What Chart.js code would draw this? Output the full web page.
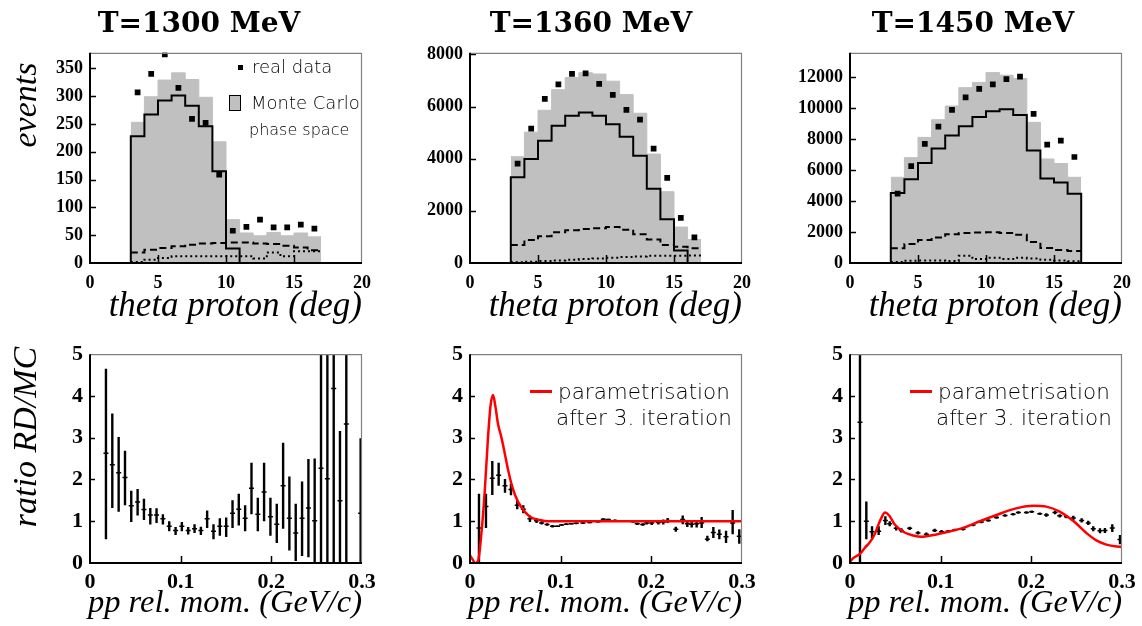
<!DOCTYPE html>
<html>
<head>
<meta charset="utf-8">
<script src="https://cdn.jsdelivr.net/npm/chart.js@4.4.1/dist/chart.umd.min.js"></script>
<style>
  body { margin: 0; background: #fff; width: 1142px; height: 626px; overflow: hidden; position: relative; }
  canvas { position: absolute; }
  .t { position: absolute; white-space: nowrap; color: #000; }
  .ttl { font: bold 28px "DejaVu Serif"; line-height: 30px; width: 300px; text-align: center; }
  .ax { font-family: "Liberation Serif"; font-style: italic; line-height: 34px; width: 400px; text-align: right; }
  .yt { font: italic 34px "Liberation Serif"; line-height: 34px; width: 240px; height: 34px; text-align: center; transform: rotate(-90deg); }
  .lg { font-family: "DejaVu Sans"; font-weight: 200; color: #000; line-height: 1; }
</style>
</head>
<body>
<canvas id="c1" width="362" height="268" style="left:20px;top:35px"></canvas>
<canvas id="c2" width="362" height="268" style="left:400px;top:35px"></canvas>
<canvas id="c3" width="362" height="268" style="left:780px;top:35px"></canvas>
<canvas id="c4" width="362" height="269" style="left:20px;top:334px"></canvas>
<canvas id="c5" width="362" height="269" style="left:400px;top:334px"></canvas>
<canvas id="c6" width="362" height="269" style="left:780px;top:334px"></canvas>

<div class="t ttl" style="left:49px;top:8px">T=1300 MeV</div>
<div class="t ttl" style="left:441px;top:8px">T=1360 MeV</div>
<div class="t ttl" style="left:823px;top:8px">T=1450 MeV</div>

<div class="t yt" style="left:-95px;top:88px">events</div>
<div class="t yt" style="left:-95px;top:420px">ratio RD/MC</div>

<div class="t ax" style="left:-38px;top:288px;font-size:35px">theta proton (deg)</div>
<div class="t ax" style="left:342px;top:288px;font-size:35px">theta proton (deg)</div>
<div class="t ax" style="left:722px;top:288px;font-size:35px">theta proton (deg)</div>
<div class="t ax" style="left:-38px;top:584px;font-size:32.5px">pp rel. mom. (GeV/c)</div>
<div class="t ax" style="left:342px;top:584px;font-size:32.5px">pp rel. mom. (GeV/c)</div>
<div class="t ax" style="left:722px;top:584px;font-size:32.5px">pp rel. mom. (GeV/c)</div>

<div class="t" style="left:238px;top:65px;width:5px;height:5px;background:#000"></div>
<div class="t lg" style="left:252px;top:58px;font-size:18px">real data</div>
<div class="t" style="left:229px;top:95px;width:10px;height:14px;background:#c0c0c0;border:1px solid #000"></div>
<div class="t lg" style="left:251px;top:94px;font-size:18px">Monte Carlo</div>
<div class="t lg" style="left:249px;top:122px;font-size:16px">phase space</div>

<div class="t" style="left:530px;top:390px;width:22px;height:3px;background:#ff0000"></div>
<div class="t lg" style="left:558px;top:381px;font-size:21.5px">parametrisation</div>
<div class="t lg" style="left:556px;top:407px;font-size:21.5px">after 3. iteration</div>
<div class="t" style="left:910px;top:390px;width:22px;height:3px;background:#ff0000"></div>
<div class="t lg" style="left:938px;top:381px;font-size:21.5px">parametrisation</div>
<div class="t lg" style="left:936px;top:407px;font-size:21.5px">after 3. iteration</div>

<script>
// theta histograms: 20 bins of 1 deg, MC only filled in 3..17
const thetaBins = [0, 1, 2, 3, 4, 5, 6, 7, 8, 9, 10, 11, 12, 13, 14, 15, 16, 17, 18, 19];
const mcEdges = [3, 4, 5, 6, 7, 8, 9, 10, 11, 12, 13, 14, 15, 16, 17];
const thetaTicks = [0, 5, 10, 15, 20];
const qTicks = [0, 0.1, 0.2, 0.3];
const ratioTicks = [0, 1, 2, 3, 4, 5];
const ticks1300 = [0, 50, 100, 150, 200, 250, 300, 350];
const ticks1360 = [0, 2000, 4000, 6000, 8000];
const ticks1450 = [0, 2000, 4000, 6000, 8000, 10000, 12000];

// T=1300 MeV
const data1300 = [0, 0, 0, 307, 340, 375, 315, 259, 252, 159, 58, 65, 78, 64, 64, 69, 62, 0, 0, 0];
const mc1300 = [253, 299, 329, 342, 330, 298, 218, 78, 54, 49, 55, 49, 54, 47];
const acc1300 = [228, 267, 292, 301, 283, 246, 165, 26, 0, 0, 0, 0, 0, 0];
const dash1300 = [19, 24, 27, 30, 33, 35, 36, 37, 37, 35, 34, 31, 28, 23];
const dot1300 = [2, 6, 9, 12, 12, 12, 12, 12, 12, 8, 19, 12, 21, 21];

// T=1360 MeV
const data1360 = [0, 0, 0, 3812, 5154, 6295, 6847, 7248, 7273, 6872, 6446, 5869, 5493, 4389, 3260, 1731, 978, 0, 0, 0];
const mc1360 = [4075, 5016, 5856, 6646, 7110, 7298, 7248, 6972, 6458, 5743, 4176, 2734, 1379, 903];
const acc1360 = [3285, 3988, 4690, 5267, 5643, 5768, 5643, 5317, 4840, 4113, 2847, 1680, 476, 0];
const dash1360 = [690, 878, 1028, 1179, 1254, 1304, 1329, 1379, 1279, 1103, 903, 690, 627, 564];
const dot1360 = [25, 50, 75, 100, 125, 150, 175, 200, 226, 251, 276, 276, 276, 288];

// T=1450 MeV
const data1450 = [0, 0, 0, 4471, 6243, 7677, 8795, 9870, 10671, 11220, 11515, 11853, 12021, 9617, 7635, 7888, 6833, 0, 0, 0];
const mc1450 = [5526, 6791, 8099, 9237, 10123, 11304, 11642, 12274, 12106, 11895, 9069, 6707, 6411, 5526];
const acc1450 = [4513, 5399, 6454, 7382, 8225, 8816, 9406, 9786, 9912, 9533, 7255, 5441, 5188, 4471];
const dash1450 = [949, 1223, 1476, 1645, 1856, 1940, 1961, 1982, 1940, 1814, 1350, 970, 844, 780];
const dot1450 = [63, 148, 169, 169, 127, 464, 253, 337, 253, 337, 295, 211, 169, 105];

// ratio RD/MC vs pp relative momentum
const q1300 = [0.0176, 0.0246, 0.0316, 0.0386, 0.0455, 0.0525, 0.0595, 0.0665, 0.0734, 0.0804, 0.0874, 0.0944, 0.1013, 0.1083, 0.1153, 0.1223, 0.1292, 0.1362, 0.1432, 0.1502, 0.1572, 0.1641, 0.1711, 0.1781, 0.1851, 0.1920, 0.1990, 0.2060, 0.2130, 0.2199, 0.2269, 0.2339, 0.2409, 0.2478, 0.2548, 0.2618, 0.2688, 0.2757, 0.2827, 0.2985];
const ratio1300 = [2.63, 2.35, 2.16, 2.05, 1.37, 1.46, 1.28, 1.15, 1.15, 1.06, 0.88, 0.78, 0.88, 0.78, 0.82, 0.78, 1.06, 0.76, 0.88, 0.88, 1.19, 1.29, 1.07, 1.79, 1.17, 1.70, 1.11, 0.93, 1.85, 1.07, 0.72, 1.07, 1.32, 1.01, 2.27, 2.02, 4.18, 1.49, 3.33, 1.19];
const hi1300 = [4.65, 3.58, 3.02, 2.69, 1.73, 1.77, 1.54, 1.32, 1.31, 1.17, 1.00, 0.86, 0.98, 0.86, 0.93, 0.87, 1.26, 0.93, 1.07, 1.09, 1.50, 1.66, 1.38, 2.40, 1.56, 2.40, 1.56, 1.42, 2.88, 2.07, 1.42, 1.95, 2.49, 2.50, 9, 9, 9, 3.16, 9, 2.99];
const lo1300 = [0.57, 1.32, 1.23, 1.38, 0.98, 1.14, 1.03, 0.92, 0.96, 0.92, 0.76, 0.67, 0.76, 0.68, 0.72, 0.67, 0.84, 0.57, 0.65, 0.62, 0.84, 0.90, 0.76, 1.17, 0.76, 1.00, 0.65, 0.48, 0.82, 0.30, 0.05, 0.17, 0.14, 0, 0, 0, 0, 0, 0, 0];

const q1360 = [0.0099, 0.0176, 0.0246, 0.0316, 0.0386, 0.0452, 0.0521, 0.0588, 0.0661, 0.0734, 0.0790, 0.0850, 0.0910, 0.0965, 0.1010, 0.1062, 0.1117, 0.1172, 0.1246, 0.1320, 0.1412, 0.1470, 0.1526, 0.1600, 0.1673, 0.1746, 0.1800, 0.1845, 0.1905, 0.1949, 0.2004, 0.2078, 0.2132, 0.2180, 0.2270, 0.2346, 0.2397, 0.2445, 0.2500, 0.2555, 0.2618, 0.2684, 0.2750, 0.2824, 0.2897, 0.2970];
const ratio1360 = [0.84, 1.35, 2.03, 2.10, 1.85, 1.76, 1.38, 1.29, 1.06, 1.01, 0.96, 0.92, 0.88, 0.88, 0.91, 0.93, 0.94, 0.95, 0.96, 0.97, 0.99, 1.05, 1.04, 1.02, 1.01, 1.01, 0.99, 0.94, 0.92, 0.96, 0.96, 0.97, 0.98, 1.02, 0.81, 1.04, 0.94, 0.93, 0.94, 0.96, 0.57, 0.73, 0.69, 0.63, 0.96, 0.64];
const hi1360 = [1.66, 1.66, 2.44, 2.40, 2.01, 1.89, 1.50, 1.38, 1.14, 1.07, 1.00, 0.95, 0.91, 0.90, 0.93, 0.95, 0.96, 0.97, 0.98, 0.99, 1.01, 1.07, 1.06, 1.04, 1.03, 1.03, 1.01, 0.97, 0.95, 1.00, 1.01, 1.02, 1.04, 1.08, 0.87, 1.14, 1.03, 1.02, 1.03, 1.10, 0.65, 0.86, 0.80, 0.77, 1.27, 0.81];
const lo1360 = [0, 0.84, 1.63, 1.85, 1.68, 1.62, 1.29, 1.19, 0.98, 0.96, 0.92, 0.89, 0.85, 0.86, 0.89, 0.91, 0.92, 0.93, 0.94, 0.95, 0.97, 1.03, 1.02, 1.00, 0.99, 0.99, 0.97, 0.91, 0.89, 0.92, 0.91, 0.92, 0.92, 0.96, 0.75, 0.93, 0.86, 0.85, 0.85, 0.84, 0.52, 0.60, 0.57, 0.48, 0.69, 0.46];
const qPar1360 = [0, 0.003, 0.0055, 0.0088, 0.0125, 0.0162, 0.0199, 0.0228, 0.0254, 0.028, 0.0309, 0.0345, 0.0383, 0.0419, 0.0474, 0.0529, 0.0603, 0.0676, 0.0769, 0.086, 0.1, 0.2, 0.3];
const par1360 = [0.18, 0.08, 0.0, 0.04, 0.69, 1.70, 3.02, 3.79, 4.02, 3.75, 3.33, 3.02, 2.63, 2.24, 1.77, 1.47, 1.23, 1.09, 1.03, 1.0, 1.0, 1.0, 1.0];

const q1450 = [0.0110, 0.0180, 0.0243, 0.0316, 0.0390, 0.0438, 0.0510, 0.0566, 0.0658, 0.0750, 0.0842, 0.0934, 0.1010, 0.1081, 0.1154, 0.1246, 0.1357, 0.1448, 0.1526, 0.1616, 0.1710, 0.1799, 0.1857, 0.1946, 0.2004, 0.2093, 0.2166, 0.2261, 0.2313, 0.2387, 0.2463, 0.2555, 0.2628, 0.2683, 0.2757, 0.2812, 0.2893, 0.2978];
const ratio1450 = [3.37, 1.00, 0.75, 0.76, 1.02, 0.94, 0.83, 0.78, 0.83, 0.72, 0.69, 0.78, 0.75, 0.76, 0.79, 0.81, 0.91, 0.98, 1.02, 1.09, 1.14, 1.17, 1.21, 1.21, 1.23, 1.18, 1.15, 1.21, 1.13, 1.11, 1.08, 1.02, 0.96, 0.82, 0.77, 0.78, 0.84, 0.56];
const hi1450 = [9, 1.47, 0.88, 0.88, 1.12, 1.00, 0.88, 0.83, 0.87, 0.76, 0.73, 0.82, 0.79, 0.79, 0.82, 0.84, 0.94, 1.01, 1.05, 1.12, 1.17, 1.20, 1.24, 1.24, 1.26, 1.21, 1.19, 1.25, 1.17, 1.15, 1.13, 1.07, 1.01, 0.88, 0.83, 0.84, 0.93, 0.67];
const lo1450 = [0, 0.57, 0.60, 0.67, 0.91, 0.88, 0.78, 0.73, 0.79, 0.68, 0.65, 0.74, 0.71, 0.73, 0.76, 0.78, 0.88, 0.95, 0.99, 1.06, 1.11, 1.14, 1.18, 1.18, 1.20, 1.15, 1.11, 1.17, 1.09, 1.07, 1.03, 0.97, 0.91, 0.76, 0.71, 0.72, 0.74, 0.45];
const qPar1450 = [0, 0.0015, 0.011, 0.0162, 0.022, 0.0272, 0.031, 0.0346, 0.0386, 0.0438, 0.0493, 0.0603, 0.0698, 0.0787, 0.0918, 0.1065, 0.1248, 0.1432, 0.1616, 0.18, 0.202, 0.2166, 0.2313, 0.246, 0.2607, 0.2717, 0.2828, 0.3];
const par1450 = [0, 0.07, 0.22, 0.36, 0.5, 0.69, 0.9, 1.08, 1.21, 1.12, 0.92, 0.73, 0.66, 0.63, 0.67, 0.74, 0.84, 1.0, 1.15, 1.29, 1.37, 1.35, 1.23, 1.01, 0.72, 0.54, 0.44, 0.38];

const serifBold = size => ({ family: "'Liberation Serif', serif", weight: 'bold', size });

// frame like ROOT: black axes left/bottom, grey top/right, ticks pointing inwards
function framePlugin(tickLen) {
  return {
    id: 'frame',
    afterDatasetsDraw(chart) {
      const { ctx, chartArea: a, scales } = chart;
      ctx.save();
      ctx.strokeStyle = '#000';
      ctx.lineWidth = 1.5;
      scales.y.ticks.forEach(t => {
        if (t.value <= scales.y.min || t.value >= scales.y.max) return;
        const py = Math.round(scales.y.getPixelForValue(t.value)) + 0.5;
        ctx.beginPath(); ctx.moveTo(a.left, py); ctx.lineTo(a.left + tickLen, py); ctx.stroke();
      });
      scales.x.ticks.forEach(t => {
        if (t.value <= scales.x.min || t.value >= scales.x.max - 1e-9) return;
        const px = Math.round(scales.x.getPixelForValue(t.value)) + 0.5;
        ctx.beginPath(); ctx.moveTo(px, a.bottom); ctx.lineTo(px, a.bottom - tickLen - 2); ctx.stroke();
      });
      ctx.strokeStyle = '#808080';
      ctx.lineWidth = 1.2;
      ctx.beginPath();
      ctx.moveTo(a.left, a.top + 0.5); ctx.lineTo(a.right - 0.5, a.top + 0.5); ctx.lineTo(a.right - 0.5, a.bottom);
      ctx.stroke();
      ctx.strokeStyle = '#000';
      ctx.lineWidth = 2;
      ctx.beginPath();
      ctx.moveTo(a.left, a.top); ctx.lineTo(a.left, a.bottom); ctx.lineTo(a.right, a.bottom);
      ctx.stroke();
      ctx.restore();
    }
  };
}

// vertical error bars, drawn under the datasets
function errorBarPlugin(lo, hi, dsIndex) {
  return {
    id: 'errorBars',
    beforeDatasetsDraw(chart) {
      const { ctx, chartArea: a, scales: { x, y } } = chart;
      const pts = chart.data.datasets[dsIndex].data;
      ctx.save();
      ctx.beginPath(); ctx.rect(a.left, a.top, a.width, a.height); ctx.clip();
      ctx.strokeStyle = '#000';
      ctx.lineWidth = 2.4;
      pts.forEach((p, i) => {
        const px = x.getPixelForValue(p.x);
        ctx.beginPath();
        ctx.moveTo(px, y.getPixelForValue(lo[i]));
        ctx.lineTo(px, y.getPixelForValue(hi[i]));
        ctx.stroke();
      });
      ctx.restore();
    }
  };
}

function stepPoints(values, dropToZero) {
  const last = mcEdges[mcEdges.length - 1];
  const pts = values.map((v, i) => ({ x: mcEdges[i], y: v }));
  pts.push({ x: last, y: values[values.length - 1] });
  if (dropToZero) {
    pts.unshift({ x: mcEdges[0], y: 0 });
    pts.push({ x: last, y: 0 });
  }
  return pts;
}

function baseScales(xMax, xTicks, yMax, yTicks, fontSize, xPad) {
  return {
    x: {
      type: 'linear', min: 0, max: xMax,
      afterBuildTicks: s => { s.ticks = xTicks.map(v => ({ value: v })); },
      ticks: { padding: xPad, color: '#000', font: serifBold(fontSize),
        callback: v => (xMax < 1 ? (v === 0 ? '0' : v.toFixed(1)) : String(v)) },
      grid: { display: false, drawTicks: false },
      border: { display: false },
      afterFit: s => { s.height = 40; }
    },
    y: {
      type: 'linear', min: 0, max: yMax,
      afterBuildTicks: s => { s.ticks = yTicks.map(v => ({ value: v })); },
      ticks: { padding: 7, color: '#000', font: serifBold(fontSize), callback: v => String(v) },
      grid: { display: false, drawTicks: false },
      border: { display: false },
      afterFit: s => { s.width = 70; }
    }
  };
}

const commonOpts = {
  responsive: false,
  animation: false,
  devicePixelRatio: 1,
  events: [],
  layout: { padding: { left: 0, top: 14, right: 20, bottom: 0 } },
  plugins: { legend: { display: false }, tooltip: { enabled: false } }
};

function histChart(id, real, mc, acc, dash, dot, yMax, yTicks) {
  new Chart(document.getElementById(id), {
    type: 'scatter',
    data: {
      datasets: [
        {
          data: real.map((v, i) => ({ x: thetaBins[i] + 0.5, y: v })),
          pointStyle: c => (c.raw && c.raw.y === 0 ? 'line' : 'rect'),
          pointRadius: 3, borderWidth: 1.5, backgroundColor: '#000', borderColor: '#000'
        },
        { data: stepPoints(acc, true), showLine: true, stepped: 'before', borderColor: '#000', borderWidth: 2, pointRadius: 0 },
        { data: stepPoints(dot, false), showLine: true, stepped: 'before', borderColor: '#000', borderWidth: 2, borderDash: [2, 3], pointRadius: 0 },
        { data: stepPoints(dash, false), showLine: true, stepped: 'before', borderColor: '#000', borderWidth: 2, borderDash: [7, 4], pointRadius: 0 },
        { data: stepPoints(mc, false), showLine: true, stepped: 'before', fill: 'origin', backgroundColor: '#c0c0c0', borderColor: '#c0c0c0', borderWidth: 1, pointRadius: 0 }
      ]
    },
    options: { ...commonOpts, scales: baseScales(20, thetaTicks, yMax, yTicks, 18, 10) },
    plugins: [framePlugin(6)]
  });
}

function ratioChart(id, q, ratio, lo, hi, qPar, par) {
  const datasets = [];
  if (qPar) {
    datasets.push({
      data: qPar.map((v, i) => ({ x: v, y: par[i] })),
      showLine: true, borderColor: '#ff0000', borderWidth: 2.5, pointRadius: 0,
      cubicInterpolationMode: 'monotone'
    });
  }
  datasets.push({
    data: q.map((v, i) => ({ x: v, y: ratio[i] })),
    pointStyle: 'line', pointRadius: 2.5, borderWidth: 1.5, borderColor: '#000', backgroundColor: '#000'
  });
  new Chart(document.getElementById(id), {
    type: 'scatter',
    data: { datasets },
    options: { ...commonOpts, scales: baseScales(0.3, qTicks, 5, ratioTicks, 22, 6) },
    plugins: [errorBarPlugin(lo, hi, datasets.length - 1), framePlugin(5)]
  });
}

histChart('c1', data1300, mc1300, acc1300, dash1300, dot1300, 378, ticks1300);
histChart('c2', data1360, mc1360, acc1360, dash1360, dot1360, 8060, ticks1360);
histChart('c3', data1450, mc1450, acc1450, dash1450, dot1450, 13550, ticks1450);
ratioChart('c4', q1300, ratio1300, lo1300, hi1300, null, null);
ratioChart('c5', q1360, ratio1360, lo1360, hi1360, qPar1360, par1360);
ratioChart('c6', q1450, ratio1450, lo1450, hi1450, qPar1450, par1450);
</script>
</body>
</html>
